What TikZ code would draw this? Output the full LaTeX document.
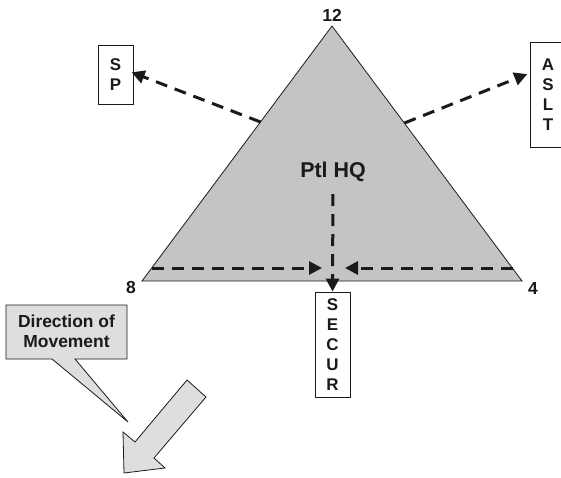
\documentclass[tikz,border=0pt]{standalone}
\usepackage{fontspec}
\setmainfont{Liberation Sans}
\usetikzlibrary{arrows.meta}
\definecolor{trigray}{HTML}{C4C4C4}
\definecolor{calloutgray}{HTML}{DEDEDE}
\definecolor{ink}{HTML}{1A1A1A}
\begin{document}
\begin{tikzpicture}[x=1bp,y=-1bp, color=ink,
  dasharrow/.style={line width=3bp, dash pattern=on 12bp off 8bp, -{Triangle[length=13bp,width=13bp]}},
  letterbox/.style={draw, line width=0.9bp, fill=white, align=center, inner sep=0pt,
     minimum width=35bp, font=\bfseries\fontsize{17}{20}\selectfont},
  numlabel/.style={font=\bfseries\fontsize{17.5}{18}\selectfont, inner sep=0pt},
  shape outline/.style={draw, line width=0.8bp, line join=miter}]
\useasboundingbox (0,0) rectangle (561,478);

% triangle
\coordinate (apex) at (332,26);
\coordinate (bl) at (142,281);
\coordinate (br) at (522,281);
\draw[shape outline, fill=trigray] (apex) -- (bl) -- (br) -- cycle;

% clock labels
\node[numlabel] (l12) at (332,15) {12};
\node[numlabel] (l8) at (131,287) {8};
\node[numlabel] (l4) at (533,289) {4};

% boxes
\node[letterbox, minimum height=59bp] (sp) at (115.5,74.5) {S\\P};
\node[letterbox, minimum height=105bp] (aslt) at (548,94.5) {A\\S\\L\\T};
\node[letterbox, minimum height=105bp] (secur) at (332.5,344.5) {S\\E\\C\\U\\R};

% Ptl HQ
\node[font=\bfseries\fontsize{21.5}{24}\selectfont, inner sep=0pt] (ptl) at (333,172) {Ptl HQ};

% dashed arrows
\coordinate (spstart) at (260.5,122);
\coordinate (asltstart) at (404.5,123);
\coordinate (lstart) at (152,268);
\coordinate (lend) at (322,268);
\coordinate (rstart) at (513,268);
\coordinate (rend) at (345,268);
\draw[dasharrow, shorten >=-2bp] (spstart) -- ([yshift=1.5bp]sp.east);
\draw[dasharrow, shorten >=3bp] (asltstart) -- ([yshift=21.5bp]aslt.west);
\draw[dasharrow] (lstart) -- (lend);
\draw[dasharrow] (rstart) -- (rend);
\draw[dasharrow, shorten <=12bp] (ptl.south) -- (secur.north);

% callout
\coordinate (cotip) at (128,422);
\draw[shape outline, fill=calloutgray] (6,305) -- (127,305) -- (127,359) -- (75,359) -- (cotip) -- (52,359) -- (6,359) -- cycle;
\node[align=center, font=\bfseries\fontsize{17.5}{20}\selectfont, inner sep=0pt] (dom) at (66.5,331) {Direction of\\Movement};

% big arrow
\draw[shape outline, fill=calloutgray] (124,473) -- (123,432) -- (135,442) -- (187,380) -- (206,397) -- (154,458) -- (165,468) -- cycle;
\end{tikzpicture}
\end{document}
